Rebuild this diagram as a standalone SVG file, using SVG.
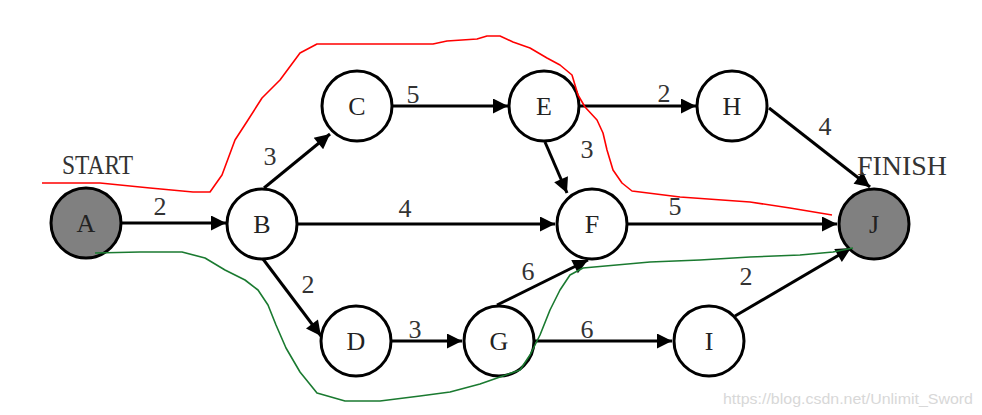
<svg xmlns="http://www.w3.org/2000/svg" width="982" height="415" viewBox="0 0 982 415">
<defs>
<marker id="arr" viewBox="0 0 10 10" refX="10" refY="5" markerWidth="6" markerHeight="5" markerUnits="strokeWidth" orient="auto">
<path d="M0,0 L10,5 L0,10 Z" fill="#000"/>
</marker>
</defs>
<style>
.node circle{fill:#fff;stroke:#000;stroke-width:3}
.node.g circle{fill:#808080}
.node text{font-family:"Liberation Serif",serif;font-size:26px;fill:#222;text-anchor:middle}
.edge{stroke:#000;stroke-width:3;fill:none;marker-end:url(#arr)}
.lbl{font-family:"Liberation Serif",serif;font-size:26px;fill:#333;text-anchor:middle}
.cap{font-family:"Liberation Serif",serif;font-size:28px;fill:#333}
</style>
<rect width="982" height="415" fill="#fff"/>
<g id="connectors">
<line class="edge" x1="122" y1="223" x2="226" y2="223"/>
<line class="edge" x1="264" y1="188" x2="330" y2="134"/>
<line class="edge" x1="392" y1="106" x2="508" y2="106"/>
<line class="edge" x1="580" y1="106" x2="696" y2="106"/>
<line class="edge" x1="769" y1="108" x2="870" y2="187"/>
<line class="edge" x1="545" y1="142" x2="567" y2="193"/>
<line class="edge" x1="298" y1="224" x2="555" y2="224"/>
<line class="edge" x1="628" y1="224" x2="837" y2="224"/>
<line class="edge" x1="263" y1="259" x2="321" y2="336"/>
<line class="edge" x1="392" y1="341" x2="462" y2="341"/>
<line class="edge" x1="497" y1="305" x2="588" y2="260"/>
<line class="edge" x1="535" y1="341" x2="672" y2="341"/>
<line class="edge" x1="735" y1="316" x2="851" y2="248"/>
</g>
<g id="labels">
<text class="lbl" x="160" y="215">2</text>
<text class="lbl" x="270" y="165">3</text>
<text class="lbl" x="413" y="103">5</text>
<text class="lbl" x="587" y="158">3</text>
<text class="lbl" x="664" y="102">2</text>
<text class="lbl" x="825" y="135">4</text>
<text class="lbl" x="405" y="217">4</text>
<text class="lbl" x="675" y="215">5</text>
<text class="lbl" x="308" y="293">2</text>
<text class="lbl" x="415" y="338">3</text>
<text class="lbl" x="528" y="280">6</text>
<text class="lbl" x="587" y="338">6</text>
<text class="lbl" x="746" y="285">2</text>
<text class="cap" x="62" y="174" textLength="71" lengthAdjust="spacingAndGlyphs">START</text>
<text class="cap" x="857" y="175" textLength="90" lengthAdjust="spacingAndGlyphs">FINISH</text>
</g>
<g id="A" class="node g"><circle cx="86" cy="223" r="35"/><text x="86" y="232">A</text></g>
<g id="B" class="node"><circle cx="262" cy="224" r="35"/><text x="262" y="233">B</text></g>
<g id="C" class="node"><circle cx="357" cy="106" r="35"/><text x="357" y="115">C</text></g>
<g id="E" class="node"><circle cx="544" cy="106" r="35"/><text x="544" y="115">E</text></g>
<g id="H" class="node"><circle cx="732" cy="106" r="35"/><text x="732" y="115">H</text></g>
<g id="F" class="node"><circle cx="592" cy="224" r="35"/><text x="592" y="233">F</text></g>
<g id="J" class="node g"><circle cx="874" cy="224" r="35"/><text x="874" y="233">J</text></g>
<g id="D" class="node"><circle cx="356" cy="341" r="35"/><text x="356" y="350">D</text></g>
<g id="G" class="node"><circle cx="499" cy="341" r="35"/><text x="499" y="350">G</text></g>
<g id="I" class="node"><circle cx="709" cy="341" r="35"/><text x="709" y="350">I</text></g>
<g id="paths" fill="none" stroke-width="1.6" stroke-linejoin="round">
<polyline stroke="#f00" points="42,183 100,183 150,188 193,192 210,192 222,175 235,140 248,120 262,98 280,80 300,53 317,44 433,44 447,41 477,39 487,36 500,36 513,42 530,48 547,58 560,65 572,75 578,95 585,107 597,120 603,133 607,150 613,170 622,183 632,191 680,197 750,202 790,208 832,215"/>
<polyline stroke="#1a7a30" points="95,253 140,252 182,252 205,258 225,270 245,280 258,290 268,305 276,325 286,348 300,372 317,393 345,401 380,401 420,396 450,392 480,384 500,377 520,370 530,355 540,335 550,310 560,290 570,275 583,268 650,262 700,260 750,257 800,255 833,252 853,248"/>
</g>
<text x="723" y="404" font-family="Liberation Sans,Arial,sans-serif" font-size="15" fill="#d8d8d8" textLength="250" lengthAdjust="spacingAndGlyphs">https://blog.csdn.net/Unlimit_Sword</text>
</svg>
